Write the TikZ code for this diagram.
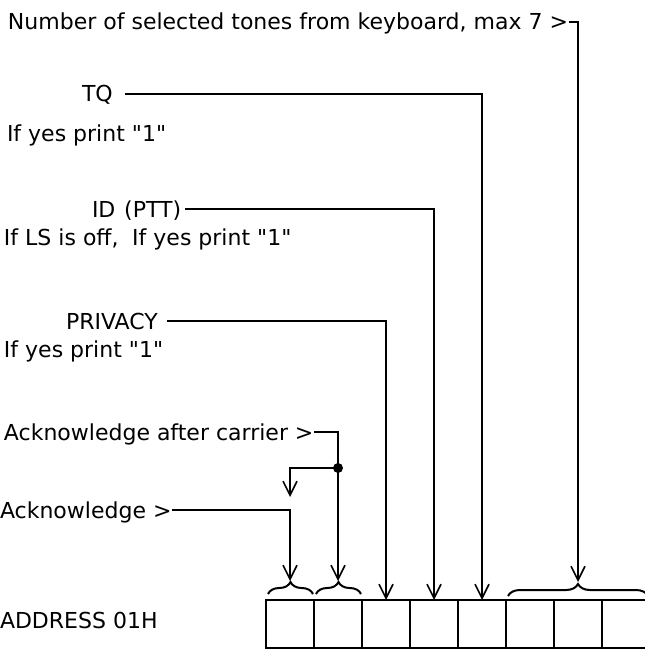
\documentclass[tikz,border=0pt]{standalone}
\usepackage{fontspec}
\setmainfont{DejaVu Sans}[Ligatures=TeXOff]
\usetikzlibrary{arrows.meta, positioning, decorations.pathreplacing}

\begin{document}
\begin{tikzpicture}[x=1pt, y=-1pt, line width=2pt,
  every node/.style={font=\fontsize{22}{26}\selectfont, inner sep=0pt, outer sep=0pt},
  lbl/.style={anchor=base west, text height=16pt, text depth=0pt},
  cell/.style={draw, minimum width=48pt, minimum height=48pt},
  sig/.style={-{Straight Barb[length=14pt, width=14pt, line width=1.6pt]}},
  grp/.style={decorate, decoration={brace, amplitude=12pt}}]
  \useasboundingbox (0,0) rectangle (644,652);
  % register
  \node[cell, anchor=north west] (b1) at (266,600) {};
  \foreach \i [remember=\i as \j (initially 1)] in {2,...,8}
    \node[cell, right=0pt of b\j] (b\i) {};
  \node[lbl] (addr) at (0,628) {ADDRESS 01H};
  % labels
  \node[lbl] (num) at (8,30) {Number of selected tones from keyboard, max 7 >};
  \node[lbl] (tq) at (82,102) {TQ};
  \node[lbl] (tqnote) at (7,142) {If yes print "1"};
  \node[lbl] (id) at (92,217) {ID\hspace{.4em}(PTT)};
  \node[lbl] (idnote) at (4,245) {If LS is off,\hspace{.3em} If yes print "1"};
  \node[lbl] (priv) at (66,329) {PRIVACY};
  \node[lbl] (privnote) at (4,357) {If yes print "1"};
  \node[lbl] (aac) at (4,440) {Acknowledge after carrier >};
  \node[lbl] (ack) at (0,518) {Acknowledge >};
  % braces
  \draw[grp] ([xshift=2pt,yshift=6pt]b1.north west) -- ([xshift=-1pt,yshift=6pt]b1.north east);
  \draw[grp] ([xshift=2pt,yshift=6pt]b2.north west) -- ([xshift=-1pt,yshift=6pt]b2.north east);
  \draw[grp] ([xshift=2pt,yshift=4pt]b6.north west) -- ([xshift=-2pt,yshift=4pt]b8.north east);
  % connectors
  \coordinate (split) at (b2.north |- 0,468);
  \coordinate (branch) at (b1.north |- 0,497);
  \draw[sig] ([xshift=1pt]num.east) -| ([yshift=18pt]b7.north);
  \draw[sig] ([xshift=12pt]tq.east) -| (b5.north);
  \draw[sig] ([xshift=4pt]id.east) -| (b4.north);
  \draw[sig] ([xshift=9pt]priv.east) -| (b3.north);
  \draw[sig] ([xshift=1pt]aac.east) -| ([yshift=19pt]b2.north);
  \fill (split) circle[radius=5pt];
  \draw[sig] (split) -| (branch);
  \draw[sig] ([xshift=1pt]ack.east) -| ([yshift=19pt]b1.north);
\end{tikzpicture}
\end{document}
